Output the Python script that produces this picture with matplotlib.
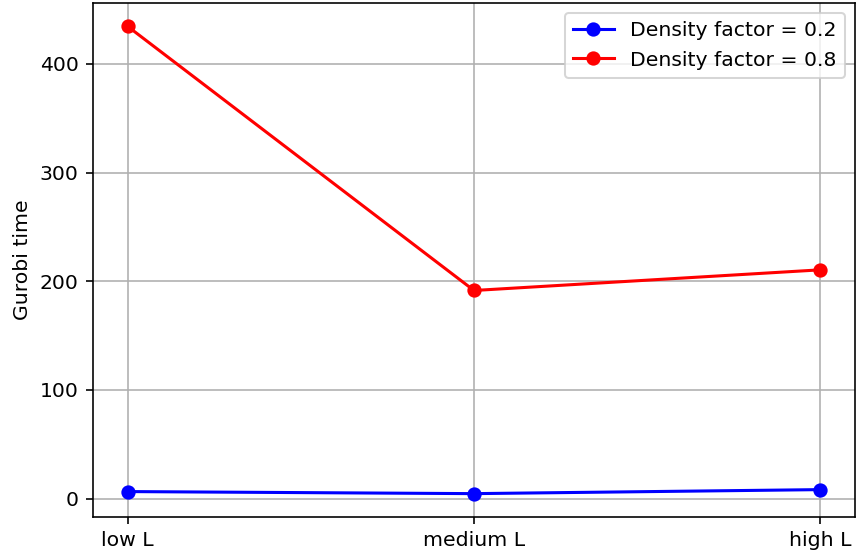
import matplotlib
matplotlib.use("Agg")
import matplotlib.pyplot as plt

levels = ["low L", "medium L", "high L"]
time_d02 = [6.5, 4.6, 8.3]
time_d08 = [434.5, 191.5, 210.5]

dpi = 147
fig, ax = plt.subplots(figsize=(857 / dpi, 557 / dpi), dpi=dpi)

ax.plot(levels, time_d02, marker="o", color="blue", label="Density factor = 0.2")
ax.plot(levels, time_d08, marker="o", color="red", label="Density factor = 0.8")

ax.set_ylabel("Gurobi time")
ax.grid(True)
ax.legend(loc="upper right")

fig.subplots_adjust(left=93 / 857, right=855 / 857, top=1 - 3 / 557, bottom=1 - 517 / 557)
fig.savefig("out.png", dpi=dpi)
